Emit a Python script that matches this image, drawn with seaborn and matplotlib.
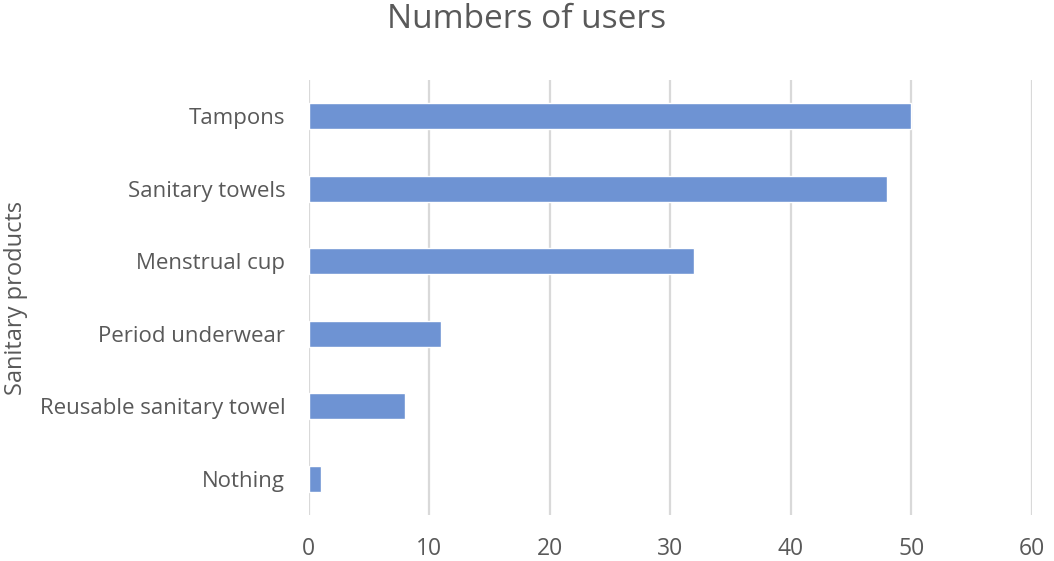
import pandas as pd
import seaborn as sns
import matplotlib.pyplot as plt

# data
products = ["Tampons", "Sanitary towels", "Menstrual cup", "Period underwear",
            "Reusable sanitary towel", "Nothing"]
users = [50, 48, 32, 11, 8, 1]
x_ticks = [0, 10, 20, 30, 40, 50, 60]

df = pd.DataFrame({"product": products, "users": users})

sns.set_theme(style="white")
plt.rcParams['font.family'] = ['Open Sans', 'DejaVu Sans']
text_color = '#595959'

fig = plt.figure(figsize=(10.54, 5.61), dpi=100)
ax = fig.add_axes([0.293, 0.082, 0.686, 0.775])

sns.barplot(data=df, x="users", y="product", color='#6E93D3', width=0.36,
            saturation=1, ax=ax, zorder=3)

# vertical gridlines like the original
ax.set_xlim(0, 60)
ax.set_ylim(5.5, -0.5)
ax.set_xticks(x_ticks)
ax.grid(axis='x', color='#D9D9D9', linewidth=1.6)
ax.set_axisbelow(True)
sns.despine(ax=ax, left=True, bottom=True)

ax.tick_params(axis='x', labelsize=16.5, colors=text_color, length=0, pad=16)
ax.tick_params(axis='y', labelsize=16, colors=text_color, length=0, pad=17)
ax.set_xlabel("")
ax.set_ylabel("Sanitary products", fontsize=17, color=text_color, labelpad=8)

fig.suptitle("Numbers of users", fontsize=24, color=text_color, y=0.995)

fig.savefig("out.png", dpi=100)
